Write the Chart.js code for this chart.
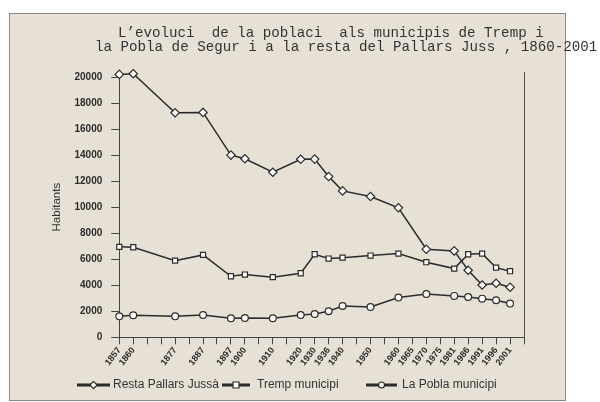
<!DOCTYPE html>
<html><head><meta charset="utf-8">
<script src="https://cdn.jsdelivr.net/npm/chart.js@4/dist/chart.umd.min.js"></script>
<style>html,body{margin:0;padding:0;background:#fff;}#wrap{width:600px;height:402px;position:relative;}</style>
</head><body><div id="wrap"><canvas id="c" width="600" height="402"></canvas></div>
<script>
// Categories (evenly spaced ticks; blank ones have no label)
const years = ['1857','1860','','','1877','','1887','','1897','1900','','1910','','1920','1930','1936','1940','','1950','','1960','1965','1970','1975','1981','1986','1991','1996','2001',''];
// Series values (null = no census point on that tick)
const resta = [20200,20250,null,null,17250,null,17280,null,14000,13720,null,12680,null,13680,13690,12350,11250,null,10820,null,9950,null,6770,null,6640,5150,4020,4150,3850,null];
const tremp = [6950,6920,null,null,5890,null,6330,null,4690,4820,null,4620,null,4920,6380,6050,6120,null,6280,null,6430,null,5770,null,5280,6380,6430,5350,5080,null];
const pobla = [1610,1690,null,null,1610,null,1710,null,1460,1480,null,1460,null,1710,1790,2000,2410,null,2330,null,3050,null,3330,null,3180,3100,2970,2850,2590,null];
const seriesNames = ['Resta Pallars Jussà','Tremp municipi','La Pobla municipi'];
const titleLines = ['L\u2019evoluci  de la poblaci  als municipis de Tremp i','la Pobla de Segur i a la resta del Pallars Juss , 1860-2001'];
const yTitle = 'Habitants';

const INK = '#2b2b2b';
const BG = '#e7e1d5';

const decor = {
  id: 'decor',
  beforeDraw(chart) {
    const ctx = chart.ctx;
    ctx.save();
    ctx.fillStyle = '#ffffff';
    ctx.fillRect(0, 0, 600, 402);
    ctx.fillStyle = BG;
    ctx.fillRect(9, 13, 556, 388);
    ctx.strokeStyle = '#8a8782';
    ctx.lineWidth = 1;
    ctx.strokeRect(9.5, 13.5, 556, 387);
    ctx.restore();
  },
  afterDraw(chart) {
    const ctx = chart.ctx;
    const ca = chart.chartArea;
    ctx.save();
    ctx.strokeStyle = '#55524d';
    ctx.lineWidth = 1;
    ctx.beginPath();
    ctx.moveTo(Math.round(ca.right) + 0.5, ca.top - 5);
    ctx.lineTo(Math.round(ca.right) + 0.5, ca.bottom);
    ctx.stroke();
    ctx.fillStyle = '#333';
    ctx.font = '14.2px "Liberation Mono", monospace';
    ctx.textBaseline = 'middle';
    ctx.textAlign = 'left';
    ctx.fillText(titleLines[0], 118, 33);
    ctx.fillText(titleLines[1], 95, 47);
    const items = [
      {x1: 77, x2: 110, tx: 113, style: 'rectRot'},
      {x1: 222, x2: 250, tx: 257, style: 'rect'},
      {x1: 366, x2: 397, tx: 402, style: 'circle'}
    ];
    const ly = 385;
    ctx.font = '12px "Liberation Sans", Arial, sans-serif';
    items.forEach((it, i) => {
      ctx.strokeStyle = INK;
      ctx.lineWidth = 3;
      ctx.beginPath();
      ctx.moveTo(it.x1, ly);
      ctx.lineTo(it.x2, ly);
      ctx.stroke();
      const cx = (it.x1 + it.x2) / 2;
      ctx.fillStyle = '#fff';
      ctx.lineWidth = 1.2;
      ctx.beginPath();
      if (it.style === 'circle') ctx.arc(cx, ly, 3, 0, Math.PI * 2);
      else if (it.style === 'rect') ctx.rect(cx - 3, ly - 3, 6, 6);
      else { ctx.moveTo(cx, ly - 3.6); ctx.lineTo(cx + 3.6, ly); ctx.lineTo(cx, ly + 3.6); ctx.lineTo(cx - 3.6, ly); ctx.closePath(); }
      ctx.fill();
      ctx.stroke();
      ctx.fillStyle = '#333';
      ctx.textBaseline = 'middle';
      ctx.fillText(chart.data.datasets[i].label, it.tx, ly);
    });
    ctx.restore();
  }
};

function ds(label, data, style, r) {
  return {
    label, data,
    borderColor: INK, borderWidth: 1.5,
    pointStyle: style, pointRadius: r, pointBorderWidth: 1.2,
    pointBackgroundColor: '#ffffff', pointBorderColor: INK,
    pointHoverRadius: r,
    spanGaps: true, tension: 0, fill: false, clip: false
  };
}

new Chart(document.getElementById('c'), {
  type: 'line',
  data: {
    labels: years,
    datasets: [
      ds(seriesNames[0], resta, 'rectRot', 4.2),
      ds(seriesNames[1], tremp, 'rect', 3.6),
      ds(seriesNames[2], pobla, 'circle', 3.4)
    ]
  },
  options: {
    responsive: false,
    animation: false,
    events: [],
    layout: {padding: {left: 0, right: 76, top: 77, bottom: 0}},
    plugins: {legend: {display: false}, title: {display: false}, tooltip: {enabled: false}},
    scales: {
      x: {
        type: 'category',
        offset: false,
        grid: {drawOnChartArea: false, drawTicks: true, tickLength: 7, color: '#444', lineWidth: 1},
        border: {display: true, color: '#444', width: 1},
        ticks: {
          autoSkip: false, maxRotation: 52, minRotation: 52, padding: 1,
          color: '#2b2b2b', font: {family: '"Liberation Sans", Arial, sans-serif', size: 9, weight: 'bold'}
        },
        afterFit(s) { s.height = 64.7; }
      },
      y: {
        min: 0, max: 20000,
        grid: {drawOnChartArea: false, drawTicks: true, tickLength: 8, color: '#444', lineWidth: 1},
        border: {display: true, color: '#444', width: 1},
        ticks: {
          stepSize: 2000, padding: 9,
          callback: v => String(v),
          color: '#2b2b2b', font: {family: '"Liberation Sans", Arial, sans-serif', size: 10, weight: 'bold'}
        },
        title: {
          display: true, text: yTitle, color: '#333',
          font: {family: '"Liberation Sans", Arial, sans-serif', size: 11.5},
          padding: {top: 50, bottom: 0}
        },
        afterFit(s) { s.width = 119.3; }
      }
    }
  },
  plugins: [decor]
});
</script>
</body></html>
